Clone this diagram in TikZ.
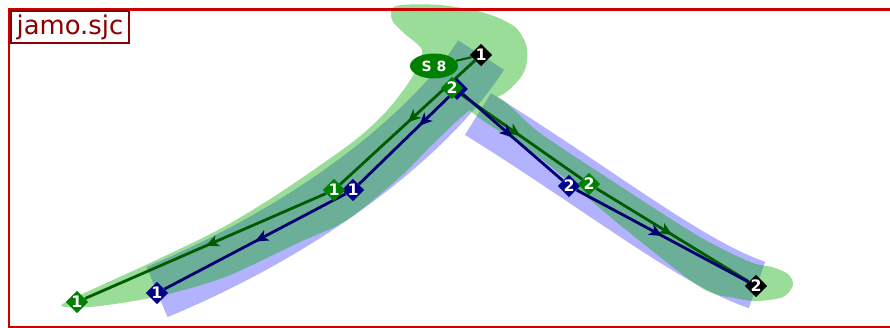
\documentclass[tikz,border=0pt]{standalone}
\usepackage{fontspec}
\setmainfont{DejaVu Sans}
\usetikzlibrary{arrows.meta,shapes.geometric,decorations.markings}
\definecolor{framered}{RGB}{204,0,0}
\definecolor{labelred}{RGB}{139,0,0}
\definecolor{bandgreen}{RGB}{0,170,0}
\definecolor{bandblue}{RGB}{0,0,255}
\definecolor{linegreen}{RGB}{0,90,0}
\definecolor{lineblue}{RGB}{0,0,110}
\definecolor{diagreen}{RGB}{0,128,0}
\definecolor{diablue}{RGB}{0,0,139}
\pgfdeclarelayer{bands}
\pgfdeclarelayer{lines}
\pgfsetlayers{bands,lines,main}
\tikzset{dia/.style={diamond,inner sep=0pt,minimum width=0.44cm,minimum height=0.44cm,text=white,font=\fontsize{9}{9}\selectfont\bfseries},
  gdia/.style={dia,fill=diagreen},
  bdia/.style={dia,fill=diablue},
  kdia/.style={dia,fill=black},
  midarrow/.style={postaction={decorate},decoration={markings,mark=at position #1 with {\arrow{Stealth[length=7.5pt,width=6.5pt,inset=2pt]}}}},
  gline/.style={color=linegreen,line width=1.6pt},
  bline/.style={color=lineblue,line width=1.6pt}}

\begin{document}
\begin{tikzpicture}[x=0.02cm,y=-0.02cm]
\useasboundingbox (0,0) rectangle (890,328);
% diamonds and labels
\node[draw=labelred,line width=1.1pt,fill=white,text=labelred,anchor=north west,minimum width=2.36cm,minimum height=0.64cm,inner sep=0pt,font=\fontsize{14.7}{15}\selectfont] (title) at (10,10) {jamo.sjc};
\node[bdia] (b0) at (457,89) {};
\node[bdia] (b1) at (353,190) {1};
\node[bdia] (b1e) at (157,293) {1};
\node[bdia] (b2) at (569,186) {2};
\node[gdia] (g1) at (334,190) {1};
\node[gdia] (g1e) at (77,302) {1};
\node[gdia] (g2s) at (452,88) {2};
\node[gdia] (g2) at (589,184) {2};
\node[kdia] (k1) at (481,55) {1};
\node[kdia] (k2) at (756,286) {2};
\node[ellipse,fill=diagreen,text=white,inner sep=0pt,minimum width=0.96cm,minimum height=0.5cm,font=\fontsize{8}{8}\selectfont\bfseries] (s8) at (434,66) {S 8};
% strokes
\begin{pgfonlayer}{lines}
\draw[gline,midarrow=.5] (k1) -- (g1);
\draw[gline,midarrow=.5] (g1) -- (g1e);
\draw[gline,midarrow=.5] (g2s) -- (g2);
\draw[gline,midarrow=.5] (g2) -- (k2);
\draw[bline,midarrow=.35] (b0) -- (b1);
\draw[bline,midarrow=.5] (b1) -- (b1e);
\draw[bline,midarrow=.5] (b0) -- (b2);
\draw[bline,midarrow=.5] (b2) -- (k2);
\draw[linegreen,line width=1.2pt] (s8) -- (k1);
\end{pgfonlayer}
% bands
\begin{pgfonlayer}{bands}
\begin{scope}[transparency group,opacity=0.3]
\draw[bandblue,line width=31pt] (481,55) .. controls (440,120) and (330,220) .. (157,292);
\draw[bandblue,line width=28pt] (478,114) .. controls (600,190) and (690,262) .. (757,285);
\end{scope}
\begin{scope}[transparency group,opacity=0.4]
\fill[bandgreen] plot[smooth cycle,tension=0.5] coordinates {(66,302) (150,263) (220,229) (281,192) (350,144) (382,116) (402,92) (415,72) (422,50) (405,34) (392,20) (396,6) (440,5) (485,13) (515,27) (527,48) (524,72) (505,93) (470,110) (432,145) (400,177) (347,220) (300,242) (225,277) (160,296) (100,306) (70,307)};
\fill[bandgreen] plot[smooth cycle,tension=0.5] coordinates {(497,97) (540,133) (620,186) (700,237) (750,262) (772,267) (788,274) (793,285) (783,297) (757,301) (735,298) (700,287) (620,225) (540,158) (470,110)};
\end{scope}
\draw[framered,line width=1.7pt] (9,9.7) rectangle (900,327);
\end{pgfonlayer}
\end{tikzpicture}
\end{document}
